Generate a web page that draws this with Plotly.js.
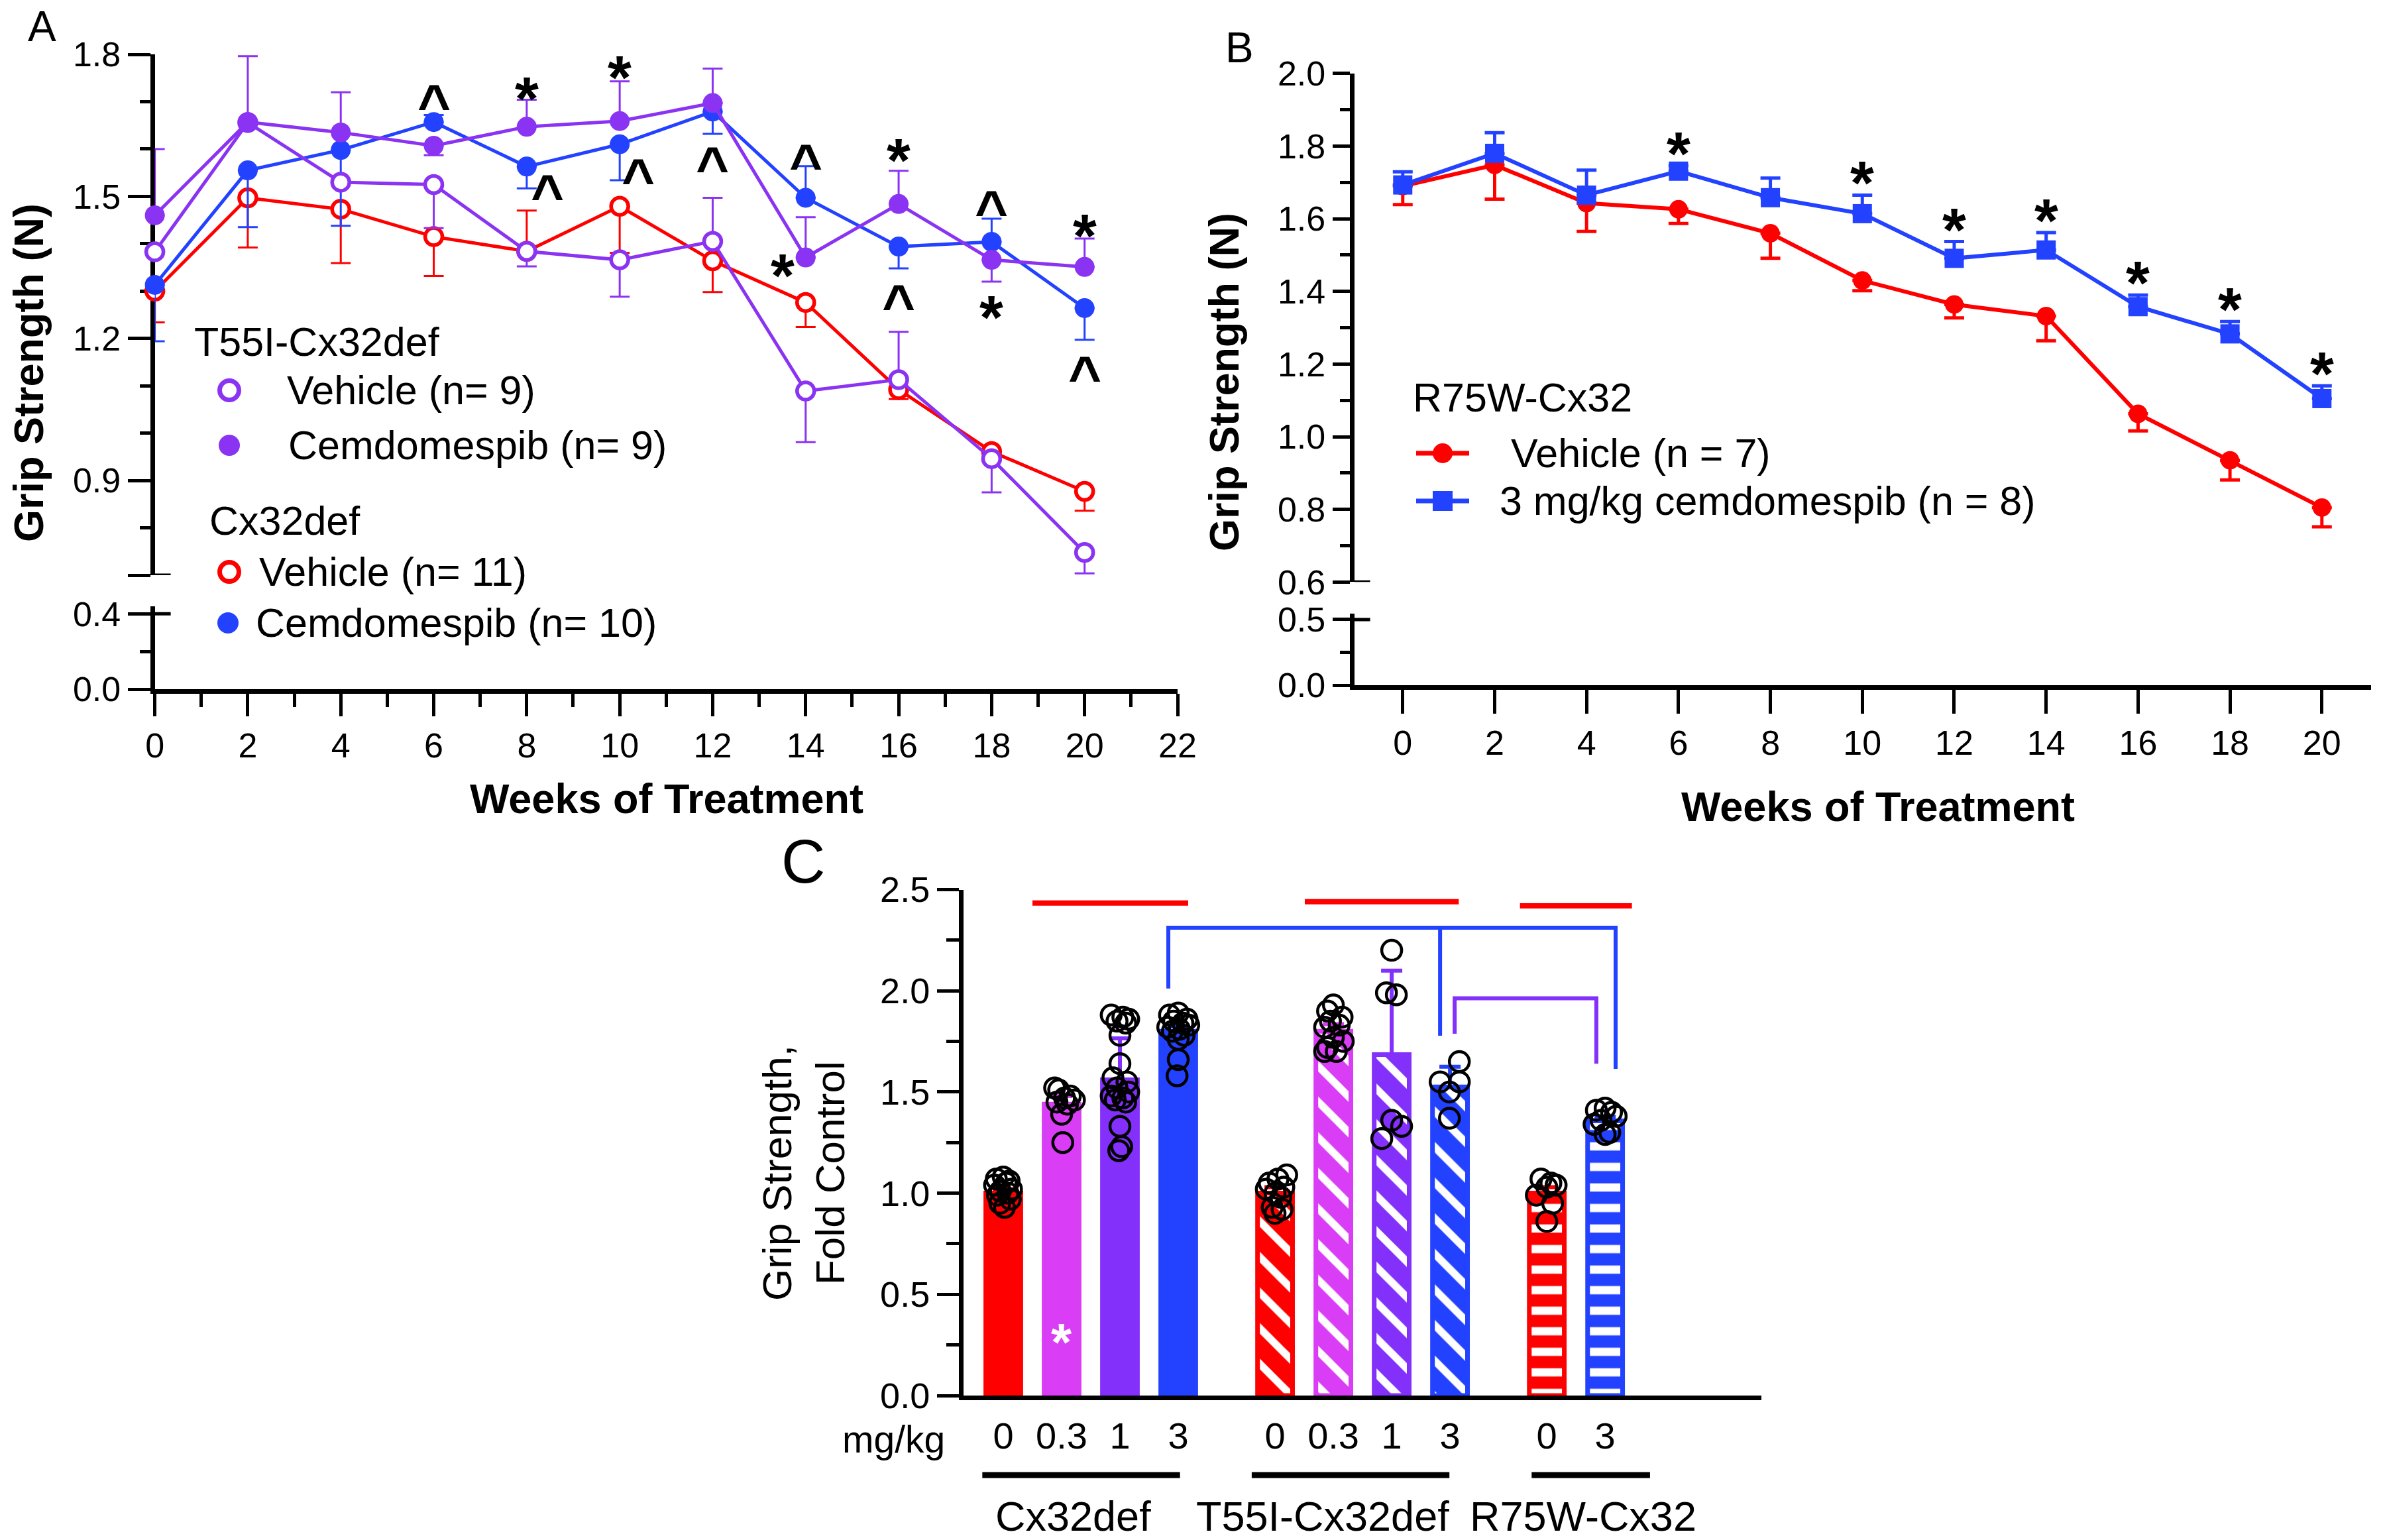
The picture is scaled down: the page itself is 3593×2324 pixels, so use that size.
<!DOCTYPE html>
<html>
<head>
<meta charset="utf-8">
<script src="https://cdn.plot.ly/plotly-3.0.1.min.js"></script>
<style>html,body{margin:0;padding:0;background:#fff}</style>
</head>
<body>
<div id="fig" style="width:3593px;height:2324px"></div>
<script>
// ---- panel A: grip strength over time, T55I-Cx32def and Cx32def mice ----
const weeksA = [0, 2, 4, 6, 8, 10, 12, 14, 16, 18, 20];
const cx32Veh   = [1.300, 1.497, 1.473, 1.415, 1.384, 1.479, 1.364, 1.276, 1.092, 0.961, 0.877];
const cx32VehUp = [0, 0, 0, 0, 0.086, 0, 0, 0, 0, 0, 0];
const cx32VehDn = [0.066, 0.105, 0.114, 0.083, 0, 0.098, 0.066, 0.052, 0.02, 0.02, 0.041];
const cx32Cem   = [1.313, 1.555, 1.598, 1.657, 1.563, 1.610, 1.679, 1.497, 1.394, 1.404, 1.264];
const cx32CemUp = [0, 0, 0, 0.015, 0, 0, 0, 0.067, 0, 0.049, 0];
const cx32CemDn = [0.119, 0.12, 0.16, 0, 0.046, 0.076, 0.047, 0, 0.046, 0, 0.067];
const t55iVeh   = [1.383, 1.656, 1.530, 1.525, 1.384, 1.366, 1.405, 1.089, 1.113, 0.946, 0.748];
const t55iVehUp = [0, 0.14, 0, 0, 0, 0, 0.092, 0, 0.101, 0, 0];
const t55iVehDn = [0, 0, 0, 0.092, 0.032, 0.078, 0, 0.108, 0, 0.071, 0.044];
const t55iCem   = [1.460, 1.657, 1.635, 1.607, 1.647, 1.659, 1.697, 1.371, 1.484, 1.366, 1.351];
const t55iCemUp = [0.14, 0, 0.085, 0, 0.057, 0.084, 0.073, 0.085, 0.07, 0, 0.06];
const t55iCemDn = [0, 0, 0, 0.02, 0, 0, 0, 0, 0, 0.046, 0];
const ticksAUp = [0.7, 0.9, 1.2, 1.5, 1.8];
const ticksAUpText = ['', '0.9', '1.2', '1.5', '1.8'];
const ticksALow = [0, 0.4];
const ticksALowText = ['0.0', '0.4'];

// ---- panel B: R75W-Cx32 ----
const weeksB = [0, 2, 4, 6, 8, 10, 12, 14, 16, 18, 20];
const r75Veh    = [1.690, 1.748, 1.643, 1.626, 1.560, 1.430, 1.364, 1.332, 1.063, 0.935, 0.805];
const r75VehSem = [0.051, 0.094, 0.078, 0.039, 0.069, 0.028, 0.037, 0.068, 0.047, 0.054, 0.053];
const r75Cem    = [1.693, 1.780, 1.665, 1.731, 1.658, 1.614, 1.491, 1.514, 1.358, 1.283, 1.105];
const r75CemSem = [0.036, 0.057, 0.069, 0.015, 0.054, 0.051, 0.046, 0.048, 0.032, 0.034, 0.035];
const sigB = [false, false, false, true, false, true, true, true, true, true, true];
const ticksBLow = [0, 0.5];
const ticksBLowText = ['0.0', '0.5'];

// ---- panel C: fold control at end point ----
const cGroups = ['Cx32def', 'T55I-Cx32def', 'R75W-Cx32'];
const cDoses = [['0', '0.3', '1', '3'], ['0', '0.3', '1', '3'], ['0', '3']];
const cMeans = [[1.00, 1.44, 1.56, 1.80], [1.00, 1.80, 1.685, 1.525], [1.00, 1.357]];
const cSem = [[0.02, 0.04, 0.205, 0.025], [0.03, 0.035, 0.415, 0.10], [0.03, 0.02]];
const cPoints = [
  [[1.08, 1.07, 1.06, 1.05, 1.04, 1.02, 1.01, 1.00, 0.99, 0.97, 0.95, 0.93],
   [1.52, 1.51, 1.48, 1.47, 1.46, 1.45, 1.44, 1.39, 1.25],
   [1.88, 1.87, 1.86, 1.85, 1.84, 1.78, 1.64, 1.57, 1.55, 1.52, 1.50, 1.48, 1.47, 1.46, 1.45, 1.33, 1.23, 1.21],
   [1.89, 1.88, 1.86, 1.85, 1.84, 1.83, 1.82, 1.81, 1.80, 1.78, 1.76, 1.66, 1.58]],
  [[1.09, 1.07, 1.05, 1.03, 1.02, 1.00, 0.98, 0.93, 0.92, 0.90],
   [1.93, 1.90, 1.87, 1.85, 1.83, 1.82, 1.77, 1.75, 1.72, 1.70, 1.70],
   [2.20, 1.99, 1.98, 1.36, 1.33, 1.27],
   [1.65, 1.55, 1.55, 1.50, 1.37]],
  [[1.07, 1.05, 1.04, 1.03, 0.99, 0.95, 0.86],
   [1.42, 1.41, 1.40, 1.38, 1.36, 1.34, 1.30, 1.29]]
];
const cJitter = [
  [[0, -0.12, 0.1, 0.05, -0.15, 0.14, -0.05, 0.08, -0.1, 0.12, -0.06, 0.02],
   [-0.12, -0.05, 0.15, 0.05, 0.22, -0.08, 0.1, 0, 0.02],
   [-0.15, 0.05, 0.15, -0.05, 0.1, 0, 0, -0.12, 0.12, -0.05, 0.15, -0.15, 0.05, -0.08, 0.1, 0, 0.03, -0.02],
   [0, -0.15, 0.15, -0.08, 0.08, 0.18, -0.18, 0.02, -0.1, 0.1, 0, 0, -0.02]],
  [[0.2, 0.05, -0.1, 0.15, -0.15, 0, 0.1, -0.05, 0.12, 0],
   [0, -0.1, 0.15, -0.05, 0.1, -0.15, 0, 0.17, -0.1, -0.15, 0.05],
   [0, -0.09, 0.08, 0, 0.17, -0.17],
   [0.16, -0.17, 0.16, -0.01, -0.01]],
  [[-0.1, 0.07, 0.16, 0, -0.18, 0.1, 0],
   [0, -0.15, 0.11, 0.19, -0.07, -0.19, 0.08, 0]]
];

// ---- look ----
const W = 3593, H = 2324;
const px = v => v / W;
const py = v => 1 - v / H;
const FONT = 'Liberation Sans, Arial, Helvetica, sans-serif';
const RED = '#FF0000', BLUE = '#2342FF', PURPLE = '#8A33F2', PINK = '#D93DF5', PURPLE_C = '#8230FA';
const GROUP_STEP = 4.66;

function lineA(name, y, up, dn, color, open) {
  return {
    type: 'scatter', mode: 'lines+markers', name: name, x: weeksA, y: y,
    xaxis: 'x', yaxis: 'y', cliponaxis: false,
    line: {color: color, width: 5},
    marker: {symbol: 'circle', size: open ? 26 : 30, color: open ? 'white' : color,
             line: {color: color, width: open ? 5.5 : 0}},
    error_y: {type: 'data', symmetric: false, array: up, arrayminus: dn,
              color: color, thickness: 3, width: 15}
  };
}

const traces = [
  lineA('Cx32def Vehicle', cx32Veh, cx32VehUp, cx32VehDn, RED, true),
  lineA('Cx32def Cemdomespib', cx32Cem, cx32CemUp, cx32CemDn, BLUE, false),
  lineA('T55I Vehicle', t55iVeh, t55iVehUp, t55iVehDn, PURPLE, true),
  lineA('T55I Cemdomespib', t55iCem, t55iCemUp, t55iCemDn, PURPLE, false),
  {
    type: 'scatter', mode: 'lines+markers', name: 'Vehicle (n = 7)', x: weeksB, y: r75Veh,
    xaxis: 'x2', yaxis: 'y3', cliponaxis: false,
    line: {color: RED, width: 6}, marker: {symbol: 'circle', size: 28, color: RED},
    error_y: {type: 'data', symmetric: false, array: r75VehSem.map(() => 0), arrayminus: r75VehSem,
              color: RED, thickness: 5, width: 15}
  },
  {
    type: 'scatter', mode: 'lines+markers', name: '3 mg/kg cemdomespib (n = 8)', x: weeksB, y: r75Cem,
    xaxis: 'x2', yaxis: 'y3', cliponaxis: false,
    line: {color: BLUE, width: 6}, marker: {symbol: 'square', size: 29, color: BLUE},
    error_y: {type: 'data', symmetric: false, array: r75CemSem, arrayminus: r75CemSem.map(() => 0),
              color: BLUE, thickness: 5, width: 15}
  }
];

// panel C bars: one trace per dose colour so error bars take the bar colour
const doseColor = {'0': RED, '0.3': PINK, '1': PURPLE_C, '3': BLUE};
const groupPattern = ['', '\\', '-'];
const patSize = [10, 38, 31];
const patSolid = [0.3, 0.3, 0.4];
const posC = cGroups.map((g, gi) => cDoses[gi].map((d, di) => gi * GROUP_STEP + di));

['0', '0.3', '1', '3'].forEach(dose => {
  const xs = [], ys = [], es = [], shp = [], sz = [], sol = [];
  cGroups.forEach((g, gi) => cDoses[gi].forEach((d, di) => {
    if (d !== dose) return;
    xs.push(posC[gi][di]); ys.push(cMeans[gi][di]); es.push(cSem[gi][di]);
    shp.push(groupPattern[gi]); sz.push(patSize[gi]); sol.push(patSolid[gi]);
  }));
  traces.push({
    type: 'bar', x: xs, y: ys, width: 0.6, xaxis: 'x3', yaxis: 'y5', name: dose + ' mg/kg',
    marker: {color: doseColor[dose], line: {color: doseColor[dose], width: 7},
             pattern: {shape: shp, fillmode: 'overlay', fgcolor: 'white', fgopacity: 1,
                       size: sz, solidity: sol}},
    error_y: {type: 'data', symmetric: false, array: es, arrayminus: es.map(() => 0),
              color: doseColor[dose], thickness: 6, width: 16}
  });
});

const ptsX = [], ptsY = [];
cPoints.forEach((grp, gi) => grp.forEach((vals, di) => vals.forEach((v, k) => {
  ptsX.push(posC[gi][di] + cJitter[gi][di][k]);
  ptsY.push(v);
})));
traces.push({
  type: 'scatter', mode: 'markers', x: ptsX, y: ptsY, xaxis: 'x3', yaxis: 'y5', name: 'mice',
  marker: {symbol: 'circle', size: 30, color: 'rgba(0,0,0,0)', line: {color: 'black', width: 4.5}}
});

// ---- axes ----
function ax(o) {
  return Object.assign({
    showline: true, linecolor: 'black', linewidth: 7, showgrid: false, zeroline: false,
    ticks: 'outside', tickcolor: 'black', tickwidth: 5, layer: 'below traces',
    tickfont: {family: FONT, size: 52, color: 'black'}, fixedrange: true
  }, o);
}
function minor(o) {
  return Object.assign({ticks: 'outside', tickcolor: 'black', tickwidth: 5, showgrid: false}, o);
}

const layout = {
  width: W, height: H, margin: {l: 0, r: 0, t: 0, b: 0},
  paper_bgcolor: 'white', plot_bgcolor: 'rgba(0,0,0,0)', showlegend: false, barmode: 'overlay',
  font: {family: FONT, color: 'black'},
  xaxis: ax({domain: [px(233.6), px(1777)], range: [0, 22], anchor: 'y2',
             tickmode: 'linear', tick0: 0, dtick: 2, ticklen: 34,
             minor: minor({tickmode: 'linear', tick0: 0, dtick: 1, ticklen: 20})}),
  yaxis: ax({domain: [py(868), py(82)], range: [0.7, 1.8], anchor: 'x',
             tickmode: 'array', tickvals: ticksAUp, ticktext: ticksAUpText, ticklen: 34,
             minor: minor({tickmode: 'linear', tick0: 0.7, dtick: 0.1, ticklen: 16})}),
  yaxis2: ax({domain: [py(1040), py(915)], range: [0, 0.44], anchor: 'x',
              tickmode: 'array', tickvals: ticksALow, ticktext: ticksALowText, ticklen: 34,
              minor: minor({tickmode: 'array', tickvals: [0.2], ticklen: 16})}),
  xaxis2: ax({domain: [px(2043.6), px(3578)], range: [-1.055, 21.07], anchor: 'y4',
              tickmode: 'array', tickvals: weeksB, ticklen: 36}),
  yaxis3: ax({domain: [py(878.3), py(110.8)], range: [0.6, 2.0], anchor: 'x2',
              tickmode: 'linear', tick0: 0.6, dtick: 0.2, tickformat: '.1f', ticklen: 26,
              minor: minor({tickmode: 'linear', tick0: 0.6, dtick: 0.1, ticklen: 15})}),
  yaxis4: ax({domain: [py(1034), py(926)], range: [0, 0.545], anchor: 'x2',
              tickmode: 'array', tickvals: ticksBLow, ticktext: ticksBLowText, ticklen: 26,
              minor: minor({tickmode: 'array', tickvals: [0.25], ticklen: 15})}),
  xaxis3: ax({domain: [px(1454), px(2658)], range: [-0.682, 13.0], anchor: 'y5',
              tickmode: 'array', tickvals: posC.flat(), ticktext: cDoses.flat(),
              tickcolor: 'rgba(0,0,0,0)', ticklen: 6,
              tickfont: {family: FONT, size: 56, color: 'black'}}),
  yaxis5: ax({domain: [py(2106), py(1342.5)], range: [0, 2.5], anchor: 'x3',
              tickmode: 'linear', tick0: 0, dtick: 0.5, tickformat: '.1f', ticklen: 33,
              tickfont: {family: FONT, size: 54, color: 'black'},
              minor: minor({tickmode: 'linear', tick0: 0, dtick: 0.25, ticklen: 19})})
};

// ---- text ----
function txt(text, x, y, size, o) {
  o = o || {};
  return {
    text: text, xref: 'paper', yref: 'paper', x: px(x), y: py(y), showarrow: false,
    xanchor: o.xanchor || 'center', yanchor: 'middle', textangle: o.angle || 0,
    font: {family: FONT, size: size, color: o.color || 'black', weight: o.bold ? 'bold' : 'normal'}
  };
}
const ann = [
  txt('A', 63, 40, 64), txt('B', 1870, 72, 64), txt('C', 1212, 1300, 92),
  txt('Grip Strength (N)', 43, 563, 63, {bold: true, angle: -90}),
  txt('Weeks of Treatment', 1006, 1205, 63, {bold: true}),
  txt('Grip Strength (N)', 1847, 577, 63, {bold: true, angle: -90}),
  txt('Weeks of Treatment', 2834, 1217, 63, {bold: true}),
  txt('Grip Strength,', 1172, 1770, 62, {angle: -90}),
  txt('Fold Control', 1252, 1770, 62, {angle: -90}),
  // legend A
  txt('T55I-Cx32def', 291, 516, 61, {xanchor: 'left'}),
  txt('Vehicle (n= 9)', 431, 589, 61, {xanchor: 'left'}),
  txt('Cemdomespib (n= 9)', 433, 672, 61, {xanchor: 'left'}),
  txt('Cx32def', 314, 786, 61, {xanchor: 'left'}),
  txt('Vehicle (n= 11)', 389, 863, 61, {xanchor: 'left'}),
  txt('Cemdomespib (n= 10)', 384, 940, 61, {xanchor: 'left'}),
  // legend B
  txt('R75W-Cx32', 2130, 600, 61, {xanchor: 'left'}),
  txt('Vehicle (n = 7)', 2278, 684, 61, {xanchor: 'left'}),
  txt('3 mg/kg cemdomespib (n = 8)', 2261, 756, 61, {xanchor: 'left'}),
  // panel C labels
  txt('mg/kg', 1428, 2172, 57, {xanchor: 'right'}),
  txt('Cx32def', 1619, 2288, 63), txt('T55I-Cx32def', 1996, 2288, 63), txt('R75W-Cx32', 2389, 2288, 63)
];

// significance marks, panel A (glyph centres in data units)
const sigA = [
  ['^', 6, 1.718], ['*', 8, 1.733], ['^', 8.45, 1.527], ['*', 10, 1.777], ['^', 10.39, 1.561],
  ['*', 12, 1.807], ['^', 12, 1.586], ['^', 14, 1.592], ['*', 13.5, 1.359], ['*', 16, 1.602],
  ['^', 16, 1.295], ['^', 18, 1.494], ['*', 18, 1.271], ['*', 20, 1.443], ['^', 20, 1.143]
];
sigA.forEach(s => ann.push({
  text: s[0], xref: 'x', yref: 'y', x: s[1], y: s[2], showarrow: false,
  yanchor: 'middle', yshift: s[0] === '*' ? -19 : -16,
  font: {family: FONT, size: s[0] === '*' ? 92 : 86, weight: 'bold', color: 'black'}
}));
weeksB.forEach((w, i) => {
  if (!sigB[i]) return;
  ann.push({text: '*', xref: 'x2', yref: 'y3', x: w, y: r75Cem[i] + r75CemSem[i], showarrow: false,
            yanchor: 'middle', yshift: 18, font: {family: FONT, size: 92, weight: 'bold', color: 'black'}});
});
ann.push({text: '*', xref: 'x3', yref: 'y5', x: posC[0][1], y: 0.32, showarrow: false, yanchor: 'middle',
          yshift: -17, font: {family: FONT, size: 80, weight: 'bold', color: 'white'}});
layout.annotations = ann;

// ---- shapes: legend keys, axis breaks, brackets ----
function seg(x0, y0, x1, y1, color, w) {
  return {type: 'line', xref: 'paper', yref: 'paper', x0: px(x0), y0: py(y0), x1: px(x1), y1: py(y1),
          line: {color: color, width: w}};
}
function dot(cx, cy, r, fill, color, w) {
  return {type: 'circle', xref: 'paper', yref: 'paper', x0: px(cx - r), x1: px(cx + r),
          y0: py(cy + r), y1: py(cy - r), fillcolor: fill, line: {color: color, width: w}};
}
function brk(xref, yref, xa, yv) {
  return {type: 'line', xref: xref, yref: yref, xsizemode: 'pixel', xanchor: xa, x0: 0, x1: 24,
          y0: yv, y1: yv, line: {color: 'black', width: 5}};
}
const shapes = [
  dot(346, 589, 14.5, 'white', PURPLE, 7), dot(346, 672, 16, PURPLE, PURPLE, 0),
  dot(346, 863, 14.5, 'white', RED, 7), dot(344, 940, 16, BLUE, BLUE, 0),
  seg(2137, 684, 2217, 684, RED, 7), dot(2177, 684, 15, RED, RED, 0),
  seg(2137, 756, 2217, 756, BLUE, 7),
  {type: 'rect', xref: 'paper', yref: 'paper', x0: px(2162), x1: px(2192), y0: py(771), y1: py(741),
   fillcolor: BLUE, line: {width: 0}},
  brk('x', 'y', 0, 0.7), brk('x', 'y2', 0, 0.4),
  brk('x2', 'y3', -1.055, 0.6), brk('x2', 'y4', -1.055, 0.5)
];
// group underlines below panel C
const lineExt = [[-0.36, 0.03], [-0.40, -0.01], [-0.26, 0.77]];
posC.forEach((p, gi) => shapes.push({
  type: 'line', xref: 'x3', yref: 'paper', x0: p[0] + lineExt[gi][0], x1: p[p.length - 1] + lineExt[gi][1],
  y0: py(2226), y1: py(2226), line: {color: 'black', width: 9}
}));
// comparison lines / brackets
[[0.5, 3.17, 2.434], [5.17, 7.81, 2.44], [8.86, 10.78, 2.42]].forEach(r => shapes.push({
  type: 'line', xref: 'x3', yref: 'y5', x0: r[0], x1: r[1], y0: r[2], y1: r[2], line: {color: RED, width: 8}
}));
shapes.push({type: 'path', xref: 'x3', yref: 'y5',
  path: 'M2.83,2.011 V2.312 H10.5 V1.614 M7.49,2.312 V1.778', line: {color: BLUE, width: 6}});
shapes.push({type: 'path', xref: 'x3', yref: 'y5',
  path: 'M7.74,1.788 V1.963 H10.17 V1.64', line: {color: PURPLE_C, width: 6}});
layout.shapes = shapes;

Plotly.newPlot('fig', traces, layout, {staticPlot: true});
</script>
</body>
</html>
